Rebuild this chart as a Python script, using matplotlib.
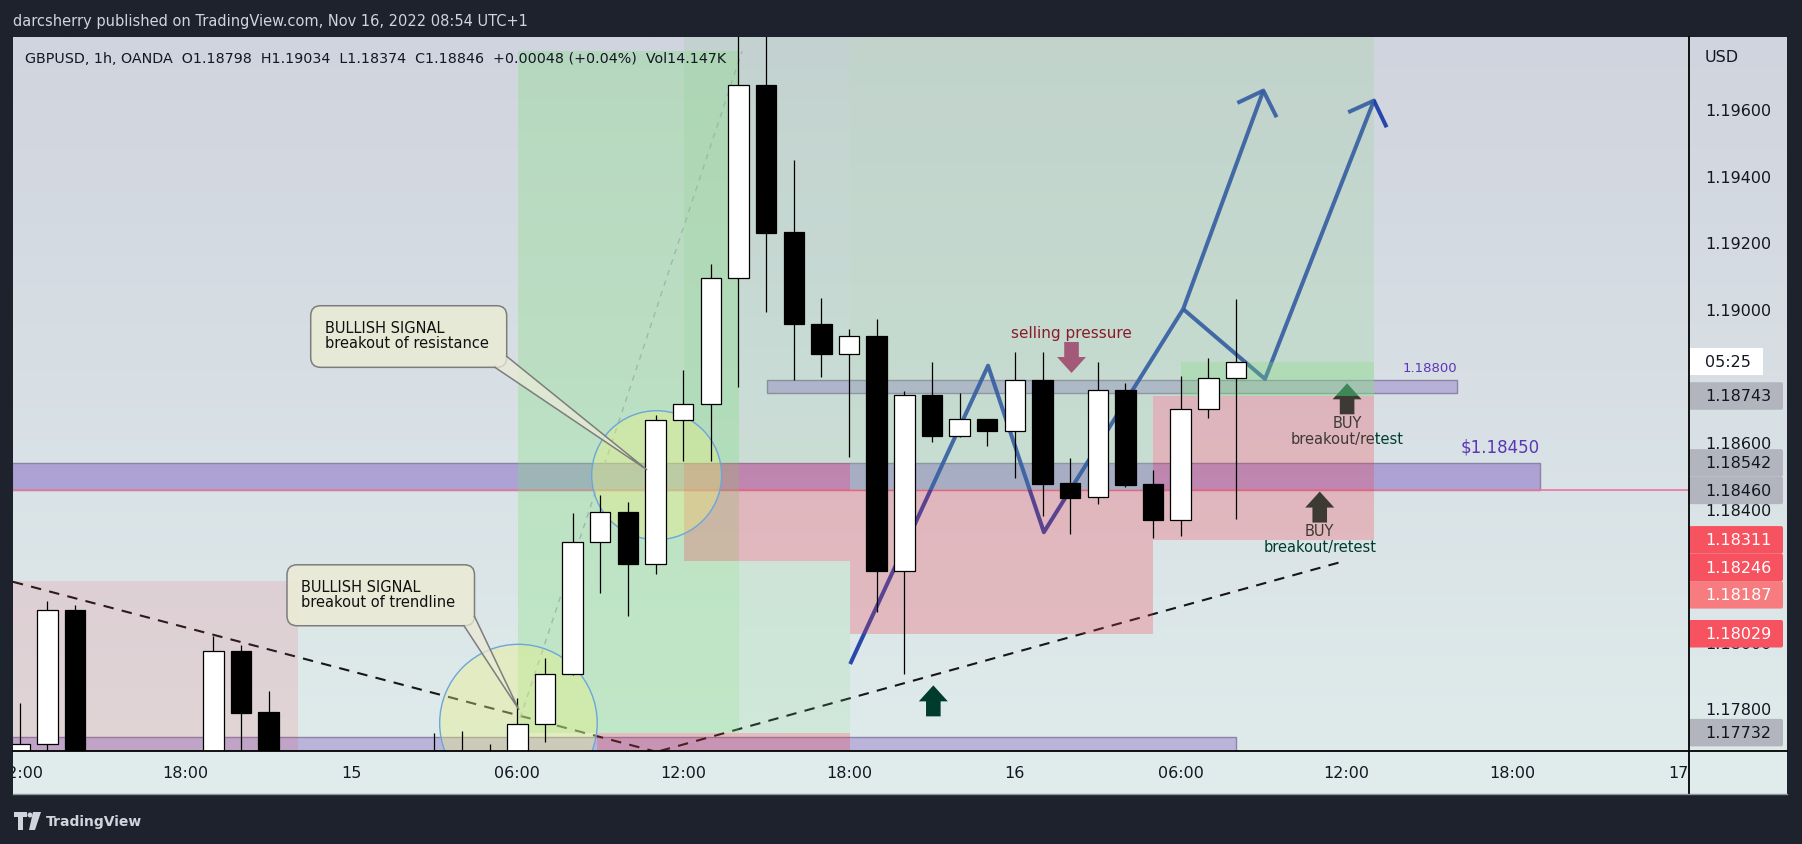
"""GBPUSD 1h TradingView idea chart: candles, position zones, bands and notes."""
import numpy as np
import matplotlib
matplotlib.use("Agg")
import matplotlib.pyplot as plt
from matplotlib.patches import Rectangle, FancyBboxPatch, Polygon, Ellipse
import matplotlib.transforms as mtransforms

# ---- candles, hour 0 = Nov 15 00:00 ----
hours = [-12, -11, -10, -5, -4, -3, 3, 4, 5, 6, 7, 8, 9, 10, 11, 12, 13, 14, 15, 16,
         17, 18, 19, 20, 21, 22, 23, 24, 25, 26, 27, 28, 29, 30, 31, 32]
opens = [1.17653, 1.17698, 1.18100, 1.17620, 1.17977, 1.17794, 1.17600, 1.17650, 1.17610,
         1.17660, 1.17758, 1.17908, 1.18304, 1.18394, 1.18238, 1.18670, 1.18718, 1.19097,
         1.19677, 1.19235, 1.18958, 1.18868, 1.18922, 1.18218, 1.18745, 1.18622, 1.18673,
         1.18637, 1.18790, 1.18481, 1.18439, 1.18760, 1.18478, 1.18370, 1.18703, 1.18798]
highs = [1.17821, 1.18128, 1.18115, 1.18023, 1.17995, 1.17857, 1.17731, 1.17737, 1.17698,
         1.17836, 1.17956, 1.18391, 1.18446, 1.18425, 1.18686, 1.18821, 1.19139, 1.19950,
         1.19900, 1.19452, 1.19037, 1.18944, 1.18974, 1.18758, 1.18845, 1.18752, 1.18673,
         1.18875, 1.18875, 1.18558, 1.18845, 1.18781, 1.18520, 1.18803, 1.18856, 1.19034]
lows = [1.17620, 1.17620, 1.17550, 1.17580, 1.17650, 1.17580, 1.17550, 1.17560, 1.17570,
        1.17640, 1.17704, 1.17905, 1.18151, 1.18083, 1.18208, 1.18549, 1.18549, 1.18771,
        1.18996, 1.18792, 1.18799, 1.18561, 1.18093, 1.17908, 1.18606, 1.18621, 1.18592,
        1.18498, 1.18384, 1.18329, 1.18420, 1.18471, 1.18316, 1.18323, 1.18678, 1.18374]
closes = [1.17698, 1.18100, 1.17600, 1.17977, 1.17792, 1.17620, 1.17650, 1.17600, 1.17660,
          1.17758, 1.17908, 1.18304, 1.18394, 1.18238, 1.18670, 1.18718, 1.19097, 1.19677,
          1.19233, 1.18958, 1.18868, 1.18922, 1.18218, 1.18745, 1.18622, 1.18673, 1.18637,
          1.18790, 1.18480, 1.18438, 1.18760, 1.18477, 1.18370, 1.18703, 1.18796, 1.18846]

time_ticks = [-12, -6, 0, 6, 12, 18, 24, 30, 36, 42, 48]
time_labels = ["12:00", "18:00", "15", "06:00", "12:00", "18:00", "16", "06:00",
               "12:00", "18:00", "17"]
price_ticks = [1.196, 1.194, 1.192, 1.190, 1.188, 1.186, 1.184, 1.182, 1.180, 1.178]
price_tags = [1.18743, 1.18542, 1.18460, 1.18311, 1.18246, 1.18187, 1.18029, 1.17732]
tag_kinds = ["gray", "gray", "gray", "red", "red", "pink", "red", "gray"]
last_close = 1.18846
countdown = "05:25"

header = "darcsherry published on TradingView.com, Nov 16, 2022 08:54 UTC+1"
legend = ("GBPUSD, 1h, OANDA  O1.18798  H1.19034  L1.18374  C1.18846  "
          "+0.00048 (+0.04%)  Vol14.147K")

# ---- drawings: (hour0, hour1, price_low, price_high) ----
resistance_band = (-12.3, 43.0, 1.18460, 1.18542)
level_band = (15.03, 40.0, 1.18751, 1.18790)
floor_band = (-12.3, 32.0, 1.17500, 1.17719)
green_zones = [(6.02, 14.02, 1.17732, 1.19780), (30.01, 37.0, 1.18743, 1.18846)]
long_target = (12.03, 18.04, 1.18542, 1.19900)
faint_green_zones = [(14.02, 18.04, 1.17732, 1.18246)]
target_zones = [(18.04, 29.0, 1.18460, 1.19900), (29.0, 37.0, 1.18743, 1.19900)]
stop_zones = [(12.03, 18.04, 1.18246, 1.18542), (18.04, 29.0, 1.18029, 1.18460),
              (29.0, 37.0, 1.18311, 1.18743), (8.9, 18.04, 1.17500, 1.17732)]
old_zone = (-12.3, -1.94, 1.17500, 1.18187)
pivot_line = 1.18460

trend_down_h, trend_down_p = [-12.25, 10.91], [1.18185, 1.17677]
trend_up_h, trend_up_p = [11.16, 35.95], [1.17677, 1.18248]
rally_h, rally_p = [6.1, 14.13], [1.17776, 1.19778]

path_h = [18.04, 23.03, 25.05, 30.09, 32.99]
path_p = [1.17938, 1.18834, 1.18334, 1.19004, 1.19660]
branch_h = [30.09, 33.05, 36.99]
branch_p = [1.19004, 1.18794, 1.19630]
head1_h, head1_p = [32.05, 32.99, 33.47], [1.19623, 1.19660, 1.19580]
head2_h, head2_p = [36.06, 36.99, 37.45], [1.19595, 1.19630, 1.19550]

circles = [(11.04, 1.18505, 2.35, 0.001937), (6.04, 1.17761, 2.85, 0.002363)]
callouts = [
    dict(text="BULLISH SIGNAL\nbreakout of resistance", box=(-1.476, 5.615, 1.18829, 1.19014),
         text_at=(-0.958, 1.18926), base=[(5.19, 1.18829), (5.615, 1.18862)], tip=(10.68, 1.18522)),
    dict(text="BULLISH SIGNAL\nbreakout of trendline", box=(-2.334, 4.45, 1.18053, 1.18236),
         text_at=(-1.827, 1.18148), base=[(4.07, 1.18053), (4.45, 1.18081)], tip=(6.05, 1.17802)),
]
buy_arrows = [(36.02, 1.18781), (35.03, 1.18456)]
push_arrow = (21.05, 1.17874)
sell_arrow = (26.05, 1.18812)

# ---- layout (pixels of the 1802x845 picture) ----
W, H = 1802, 845
X0, PX_H = 351.5, 27.64          # x pixel of hour 0, pixels per hour
Y0, PX_P = 111.6, 33300.0        # y pixel of 1.196, pixels per price unit
L, R, T, B = 13, 1689, 38, 752
AR, TB = 1787, 795


def fx(px):
    return px / W


def fy(py):
    return 1 - py / H


xlim = ((L - X0) / PX_H, (R - X0) / PX_H)
ylim = (1.196 - (B - Y0) / PX_P, 1.196 + (Y0 - T) / PX_P)

fig = plt.figure(figsize=(W / 100, H / 100), dpi=100, facecolor="#1e222d")

# pane background
bg = fig.add_axes([fx(L), fy(TB), (AR - L) / W, (TB - T) / H], zorder=0)
bg.set_xlim(L, AR)
bg.set_ylim(TB, T)
bg.axis("off")
top = np.array([208, 212, 222]) / 255
bot = np.array([223, 235, 235]) / 255
g = np.linspace(0, 1, 300)[:, None, None]
bg.imshow(top + (bot - top) * g, extent=(L, AR, B, T), aspect="auto", interpolation="bilinear")
bg.add_patch(Rectangle((L, B), AR - L, TB - B, color="#e0ecec", lw=0))

ax = fig.add_axes([fx(L), fy(B), (R - L) / W, (B - T) / H], zorder=1)
ax.set_xlim(xlim)
ax.set_ylim(ylim)
ax.axis("off")


def rect(z, **kw):
    h0, h1, p0, p1 = z
    ax.add_patch(Rectangle((h0, p0), h1 - h0, p1 - p0, **kw))


purple = (103/255, 58/255, 183/255)
rect(resistance_band, facecolor=purple + (0.38,), edgecolor="#8a84a6", lw=1, zorder=1)
rect(level_band, facecolor=purple + (0.28,), edgecolor="#8a84a6", lw=1, zorder=1)
rect(floor_band, facecolor=purple + (0.3,), edgecolor="#8a84a6", lw=1, zorder=1)
ax.axhline(pivot_line, color="#e9789a", lw=1.2, zorder=1.5)

dash = (0, (5, 4))
ax.plot(trend_down_h, trend_down_p, color="#161616", lw=1.5, ls=dash, zorder=2)
ax.plot(trend_up_h, trend_up_p, color="#161616", lw=1.5, ls=dash, zorder=2)
ax.plot(rally_h, rally_p, color="#b0a6c8", lw=1, ls=(0, (4, 4)), zorder=2)

navy = (20/255, 55/255, 165/255, 0.9)
for hh, pp in [(path_h, path_p), (branch_h, branch_p), (head1_h, head1_p), (head2_h, head2_p)]:
    ax.plot(hh, pp, color=navy, lw=2.9, solid_joinstyle="round", solid_capstyle="butt", zorder=2.2)


def offset_trans(h, p):
    return (mtransforms.Affine2D().scale(0.01, -0.01) + fig.dpi_scale_trans
            + mtransforms.ScaledTranslation(h, p, ax.transData))


up_shape = [(0, 0), (14.5, 16), (7.3, 16), (7.3, 31), (-7.3, 31), (-7.3, 16), (-14.5, 16)]
down_shape = [(x, -y) for x, y in up_shape]
for h, p in buy_arrows:
    ax.add_patch(Polygon(up_shape, closed=True, transform=offset_trans(h, p),
                         facecolor="#003c2d", lw=0, zorder=2.4))
    ax.annotate("BUY", (h, p), xytext=(0, -39 * 0.72), textcoords="offset points",
                ha="center", va="center", fontsize=10.5, color="#003c2d", zorder=2.4)
    ax.annotate("breakout/retest", (h, p), xytext=(0, -55 * 0.72), textcoords="offset points",
                ha="center", va="center", fontsize=10.5, color="#003c2d", zorder=2.4)
ax.add_patch(Polygon(up_shape, closed=True, transform=offset_trans(*push_arrow),
                     facecolor="#003c2d", lw=0, zorder=2.4))
ax.add_patch(Polygon(down_shape, closed=True, transform=offset_trans(*sell_arrow),
                     facecolor="#a8326e", lw=0, zorder=2.4))

# zones over the drawings
green = (125/255, 225/255, 120/255)
rect(old_zone, facecolor=(242/255, 54/255, 69/255, 0.12), lw=0, zorder=3)
for z in green_zones:
    rect(z, facecolor=green + (0.3,), lw=0, zorder=3)
rect(long_target, facecolor=(130/255, 205/255, 135/255, 0.16), lw=0, zorder=3)
for z in faint_green_zones:
    rect(z, facecolor=green + (0.15,), lw=0, zorder=3)
for z in target_zones:
    rect(z, facecolor=(150/255, 210/255, 150/255, 0.25), lw=0, zorder=3)
for z in stop_zones:
    rect(z, facecolor=(242/255, 54/255, 69/255, 0.25), lw=0, zorder=3.1)

for h, p, rh, rp in circles:
    ax.add_patch(Ellipse((h, p), 2 * rh, 2 * rp, facecolor=(235/255, 240/255, 130/255, 0.38),
                         edgecolor="#6aa6dc", lw=1, zorder=4))

# candles
hrs = np.array(hours)
o, c = np.array(opens), np.array(closes)
up = c >= o
ax.vlines(hrs, lows, highs, color="black", lw=0.9, zorder=5)
ax.bar(hrs, np.abs(c - o), bottom=np.minimum(o, c), width=0.74,
       color=np.where(up, "white", "black"), edgecolor="black", lw=0.9, zorder=6)

# callouts
aspect = PX_H / PX_P
for co in callouts:
    h0, h1, p0, p1 = co["box"]
    ax.add_patch(FancyBboxPatch((h0, p0), h1 - h0, p1 - p0,
                                boxstyle=f"round,pad=0,rounding_size={10 / PX_H}",
                                mutation_aspect=aspect, facecolor=(234/255, 235/255, 214/255, 0.9),
                                edgecolor="#7d7d7d", lw=1.1, zorder=7))
    (b1h, b1p), (b2h, b2p) = co["base"]
    th, tp = co["tip"]
    ax.add_patch(Polygon([(b1h, b1p), (th, tp), (b2h, b2p)], closed=True,
                         facecolor=(234/255, 235/255, 214/255, 0.75), lw=0, zorder=7.1))
    ax.plot([b1h, th, b2h], [b1p, tp, b2p], color="#7d7d7d", lw=1.1, zorder=7.2)
    ax.text(*co["text_at"], co["text"], ha="left", va="center", fontsize=10.5,
            color="#111111", linespacing=1.05, zorder=7.3)

ax.annotate("selling pressure", sell_arrow, xytext=(0, 41 * 0.72), textcoords="offset points",
            ha="center", va="center", fontsize=11, color="#8b1a2a", zorder=8)
ax.text(resistance_band[1], resistance_band[3] + 7 / PX_P, "$1.18450", ha="right", va="bottom",
        fontsize=12, color="#5b36b5", zorder=8)
ax.text(level_band[1], level_band[3] + 6 / PX_P, "1.18800", ha="right", va="bottom",
        fontsize=9.5, color="#5b36b5", zorder=8)

# price scale
axp = fig.add_axes([fx(R), fy(B), (AR - R) / W, (B - T) / H], zorder=2)
axp.set_xlim(0, AR - R)
axp.set_ylim(ylim)
axp.axis("off")
half = 13.75 / PX_P
centers = []
prev = None
for p in sorted(price_tags, reverse=True):
    yc = p if prev is None else min(p, prev - 2 * half)
    centers.append(yc)
    prev = yc
spans = [(yc - half, yc + half) for yc in centers] + [(last_close - half, last_close + half)]
glyph = 6 / PX_P
for t in price_ticks:
    # skip a tick label that the price tags cover completely
    covered = any(a <= t - glyph and t + glyph <= b for a, b in spans) or (
        any(a <= t - glyph <= b for a, b in spans) and any(a <= t + glyph <= b for a, b in spans)
        and sum(1 for a, b in spans if a <= t + glyph and t - glyph <= b) > 1)
    if covered:
        continue
    axp.text(16, t, f"{t:.5f}", ha="left", va="center", fontsize=11.5, color="#131722", clip_on=True)
axp.text(16, 1 - 20 / (B - T), "USD",
         transform=mtransforms.blended_transform_factory(axp.transData, axp.transAxes),
         ha="left", va="center", fontsize=11.5, color="#131722")
axp.add_patch(Rectangle((0, last_close - half), 74, 2 * half, facecolor="white", lw=0, zorder=3))
axp.text(16, last_close, countdown, ha="left", va="center", fontsize=11.5, color="#131722", zorder=4)
tag_style = {"gray": ("#b2b5be", "#131722"), "red": ("#f7525f", "white"), "pink": ("#f77c80", "white")}
for (p, kind), yc in zip(sorted(zip(price_tags, tag_kinds), reverse=True), centers):
    fc, tc = tag_style[kind]
    axp.add_patch(FancyBboxPatch((0, yc - half), 94, 2 * half, boxstyle="round,pad=0,rounding_size=2",
                                 mutation_aspect=1 / PX_P, facecolor=fc, lw=0, zorder=3))
    axp.text(16, yc, f"{p:.5f}", ha="left", va="center", fontsize=11.5, color=tc, zorder=4)

# time scale
axt = fig.add_axes([fx(L), fy(TB), (R - L) / W, (TB - B) / H], zorder=2)
axt.set_xlim(xlim)
axt.set_ylim(0, 1)
axt.axis("off")
for t, lab in zip(time_ticks, time_labels):
    axt.text(t, 0.5, lab, ha="center", va="center", fontsize=11.5, color="#131722", clip_on=True)

# frame lines, header, logo
ov = fig.add_axes([0, 0, 1, 1], zorder=3)
ov.set_xlim(0, W)
ov.set_ylim(H, 0)
ov.axis("off")
ov.plot([L, AR], [B, B], color="black", lw=1.3)
ov.plot([R, R], [T, TB], color="black", lw=1.3)
ov.plot([L, AR], [TB, TB], color="#8d929c", lw=1)
ov.text(12.6, 21.7, header, ha="left", va="center", fontsize=10.5, color="#d1d4dc")
ov.text(25, 59.3, legend, ha="left", va="center", fontsize=10.3, color="#131722")
ov.add_patch(Polygon([(14, 813), (27, 813), (27, 818), (23, 818), (23, 831), (18, 831),
                      (18, 818), (14, 818)], closed=True, facecolor="#d1d4dc", lw=0))
ov.add_patch(Ellipse((30, 816), 5, 5, facecolor="#d1d4dc", lw=0))
ov.add_patch(Polygon([(33, 813), (41, 813), (35, 831), (29, 831)], closed=True,
                     facecolor="#d1d4dc", lw=0))
ov.text(46, 822, "TradingView", ha="left", va="center", fontsize=10, fontweight="bold",
        color="#d1d4dc")

fig.savefig("out.png", dpi=100, facecolor=fig.get_facecolor())
